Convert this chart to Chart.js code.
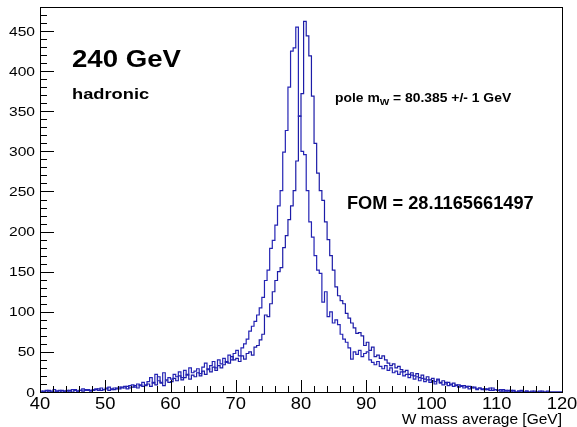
<!DOCTYPE html>
<html>
<head>
<meta charset="utf-8">
<script src="https://cdn.jsdelivr.net/npm/chart.js@4.4.1/dist/chart.umd.min.js"></script>
<style>
  html, body { margin: 0; padding: 0; background: #fff; }
  canvas { display: block; }
</style>
</head>
<body>
<canvas id="myChart" width="577" height="427"></canvas>
<script>
// histogram binning: 200 bins of 0.4 GeV from 40 to 120
var binLow = 40;
var binWidth = 0.4;

// first histogram (peak just below 80)
var histA = [
  1,0,2,1,0,3,1,2,0,1,
  2,1,3,2,1,2,4,2,3,1,
  3,4,2,5,3,4,6,3,5,4,
  6,5,7,4,8,9,6,10,8,12,
  9,13,18,11,22,14,12,24,15,18,
  16,22,19,25,18,27,21,30,24,26,
  29,23,31,36,28,33,38,30,40,35,
  42,37,46,40,48,52,45,55,60,66,
  76,82,88,96,105,118,139,152,179,189,
  208,232,251,299,326,380,425,429,455,344,
  300,296,251,212,193,170,152,148,112,125,
  94,100,86,90,84,72,66,62,55,41,
  50,47,52,44,48,50,40,37,34,38,
  32,29,33,27,30,24,26,22,25,20,
  22,18,21,16,19,14,17,13,15,12,
  14,10,16,11,9,12,8,10,7,9,
  6,8,5,7,4,6,5,3,5,4,
  3,4,2,5,3,2,3,1,2,1,
  2,1,0,1,2,0,1,0,1,0,
  0,1,0,0,1,0,0,0,0,0
];

// second histogram (peak just above 80)
var histB = [
  0,1,0,2,1,0,1,0,2,1,
  1,2,0,3,1,2,1,3,2,2,
  2,3,4,2,3,5,2,4,3,5,
  4,6,5,7,5,6,8,5,9,7,
  8,10,7,12,9,19,11,8,14,12,
  13,17,14,20,15,18,22,16,21,19,
  24,20,26,22,29,25,31,27,33,30,
  34,38,36,44,40,42,38,45,41,48,
  50,46,56,58,65,72,96,94,110,125,
  139,150,155,180,195,215,232,251,288,344,
  372,462,444,419,369,310,273,251,239,212,
  190,170,152,131,120,114,110,98,92,86,
  80,73,74,70,58,62,52,56,44,46,
  42,45,40,36,33,35,30,32,28,25,
  27,22,24,20,23,18,21,16,19,15,
  17,13,15,12,14,10,12,9,11,8,
  9,7,8,6,7,5,6,4,5,3,
  4,3,5,2,3,2,1,3,1,2,
  1,2,0,1,1,0,1,0,0,1,
  0,0,1,0,0,0,0,0,0,0
];

var xTickLabels = [40, 50, 60, 70, 80, 90, 100, 110, 120];
var yTickLabels = [0, 50, 100, 150, 200, 250, 300, 350, 400, 450];

function toSteps(vals) {
  var pts = [];
  for (var i = 0; i < vals.length; i++) {
    pts.push({x: binLow + binWidth * i, y: vals[i]});
  }
  pts.push({x: binLow + binWidth * vals.length, y: vals[vals.length - 1]});
  return pts;
}

function stretchText(ctx, txt, x, y, font, align, sx) {
  ctx.save();
  ctx.font = font;
  ctx.textAlign = align;
  ctx.textBaseline = 'alphabetic';
  ctx.fillStyle = '#000';
  ctx.translate(x, y);
  ctx.scale(sx, 1);
  ctx.fillText(txt, 0, 0);
  ctx.restore();
}

var rootFrame = {
  id: 'rootFrame',
  afterDatasetsDraw: function(chart) {
    var ctx = chart.ctx;
    var a = chart.chartArea;
    var xs = chart.scales.x;
    var ys = chart.scales.y;
    ctx.save();
    ctx.strokeStyle = '#000';
    ctx.lineWidth = 1;
    ctx.strokeRect(a.left + 0.5, a.top + 0.5, a.right - a.left, a.bottom - a.top);

    // ticks drawn inside the frame, ROOT style
    ctx.beginPath();
    for (var v = 0; v <= 470; v += 10) {
      var py = Math.round(ys.getPixelForValue(v)) + 0.5;
      var len = (v % 50 === 0) ? 14 : 7;
      ctx.moveTo(a.left, py);
      ctx.lineTo(a.left + len, py);
    }
    for (var u = 40; u <= 120; u += 2) {
      var px = Math.round(xs.getPixelForValue(u)) + 0.5;
      var l2 = (u % 10 === 0) ? 12 : 6;
      ctx.moveTo(px, a.bottom);
      ctx.lineTo(px, a.bottom - l2);
    }
    ctx.stroke();
    ctx.restore();

    yTickLabels.forEach(function(t) {
      stretchText(ctx, String(t), a.left - 5, ys.getPixelForValue(t) + 4.5, '12px "Liberation Sans"', 'right', 1.3);
    });
    xTickLabels.forEach(function(t) {
      stretchText(ctx, String(t), xs.getPixelForValue(t), 409, '17px "Liberation Sans"', 'center', 1.08);
    });
    stretchText(ctx, 'W mass average [GeV]', a.right, 424, '15.5px "Liberation Sans"', 'right', 1);

    stretchText(ctx, '240 GeV', 72, 67, 'bold 24px "Liberation Sans"', 'left', 1.15);
    stretchText(ctx, 'hadronic', 72, 99, 'bold 14.5px "Liberation Sans"', 'left', 1.26);
    stretchText(ctx, 'FOM = 28.1165661497', 347, 209, 'bold 17.5px "Liberation Sans"', 'left', 1.04);

    // pole m_W with subscript
    var sx = 1.12;
    ctx.save();
    ctx.font = 'bold 12.4px "Liberation Sans"';
    var w1 = ctx.measureText('pole m').width * sx;
    ctx.font = 'bold 9px "Liberation Sans"';
    var w2 = ctx.measureText('W').width * sx;
    ctx.restore();
    stretchText(ctx, 'pole m', 335, 101.5, 'bold 12.4px "Liberation Sans"', 'left', sx);
    stretchText(ctx, 'W', 335 + w1, 105, 'bold 9px "Liberation Sans"', 'left', sx);
    stretchText(ctx, ' = 80.385 +/- 1 GeV', 335 + w1 + w2, 101.5, 'bold 12.4px "Liberation Sans"', 'left', sx);
  }
};

var ctx = document.getElementById('myChart');
var myChart = new Chart(ctx, {
  type: 'line',
  data: {
    datasets: [{
      label: 'hist A',
      data: toSteps(histA),
      stepped: 'before',
      borderColor: '#2424b4',
      borderWidth: 1.2,
      pointRadius: 0,
      fill: false
    }, {
      label: 'hist B',
      data: toSteps(histB),
      stepped: 'before',
      borderColor: '#1c1ca8',
      borderWidth: 1.2,
      pointRadius: 0,
      fill: false
    }]
  },
  options: {
    responsive: false,
    animation: false,
    layout: { padding: { left: 40, top: 7, right: 15, bottom: 35 } },
    plugins: { legend: { display: false }, tooltip: { enabled: false } },
    scales: {
      x: { type: 'linear', min: 40, max: 120, display: false },
      y: { type: 'linear', min: 0, max: 480, display: false }
    }
  },
  plugins: [rootFrame]
});
</script>
</body>
</html>
